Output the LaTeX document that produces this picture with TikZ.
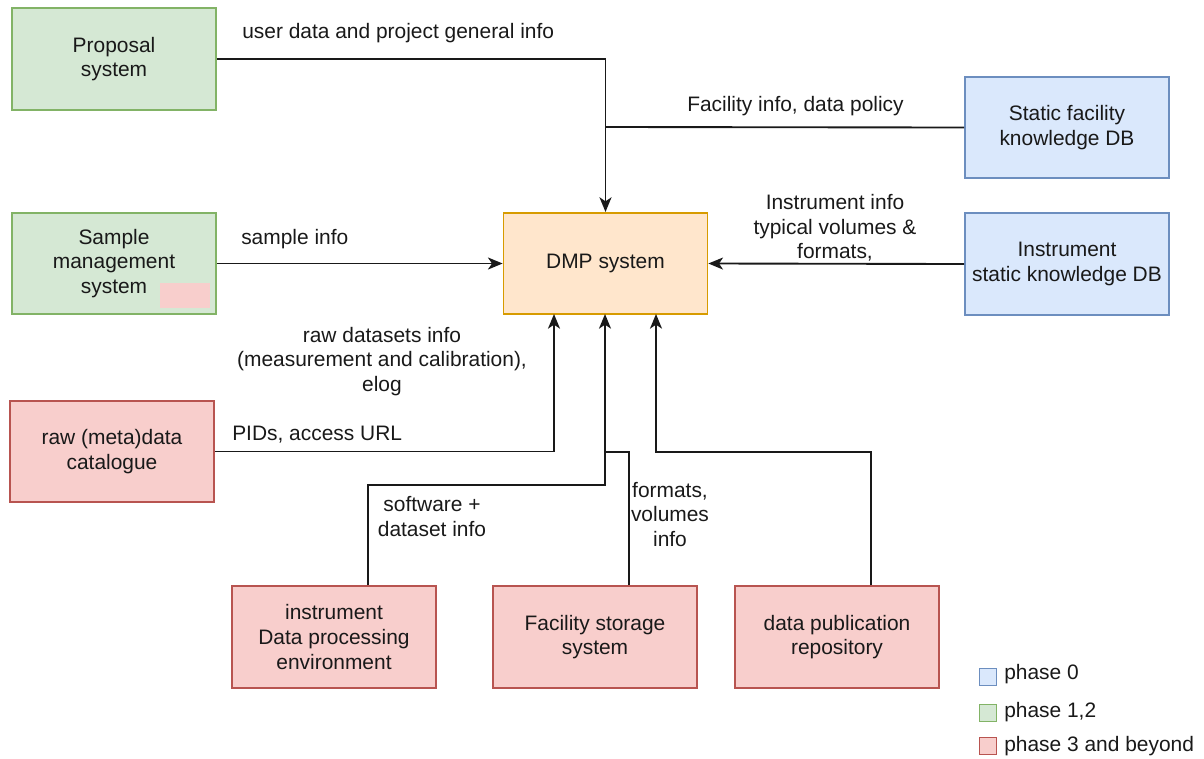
\documentclass[tikz,border=0pt]{standalone}
\usepackage{fontspec}
\setmainfont{Liberation Sans}
\usetikzlibrary{arrows.meta}
\definecolor{greenF}{HTML}{D5E8D4}\definecolor{greenD}{HTML}{82B366}
\definecolor{blueF}{HTML}{DAE8FC}\definecolor{blueD}{HTML}{6C8EBF}
\definecolor{redF}{HTML}{F8CECC}\definecolor{redD}{HTML}{B85450}
\definecolor{orangeF}{HTML}{FFE6CC}\definecolor{orangeD}{HTML}{D79B00}
\tikzset{
  every node/.style={font=\fontsize{15.7pt}{18.4pt}\selectfont, text=black!90},
  sysbox/.style={draw, line width=1.3pt, minimum width=153pt, minimum height=76pt, align=center, inner sep=2pt},
  greenbox/.style={sysbox, fill=greenF, draw=greenD},
  bluebox/.style={sysbox, fill=blueF, draw=blueD},
  redbox/.style={sysbox, fill=redF, draw=redD},
  dmpbox/.style={sysbox, fill=orangeF, draw=orangeD},
  link/.style={line width=1.4pt, draw=black!90},
  flow/.style={link, -{Stealth[length=11pt, width=9pt, inset=3pt]}},
  lbl/.style={align=center, inner sep=0pt},
  legsq/.style={draw, line width=1pt, minimum size=12.5pt, inner sep=0pt}
}
\begin{document}
\begin{tikzpicture}[x=0.75pt, y=-0.75pt]
\useasboundingbox (0,0) rectangle (1204,758);

% systems
\node[greenbox] (prop) at (114,59) {Proposal\\system};
\node[greenbox] (samp) at (114,263.5) {Sample\\management\\system};
\node[fill=redF, minimum width=37.5pt, minimum height=19pt, inner sep=0pt] (tag) at (185,295.5) {};
\node[dmpbox] (dmp) at (605.5,263.5) {DMP system};
\node[bluebox] (sfk) at (1067,127.5) {Static facility\\knowledge DB};
\node[bluebox] (isk) at (1067,264) {Instrument\\static knowledge DB};
\node[redbox] (raw) at (112,451.5) {raw (meta)data\\catalogue};
\node[redbox] (idp) at (334,637) {instrument\\Data processing\\environment};
\node[redbox] (fss) at (595,637) {Facility storage\\system};
\node[redbox] (dpr) at (837,637) {data publication\\repository};

% junction points
\coordinate (topjoin) at (605,127);
\coordinate (dmpL) at (554,314);
\coordinate (dmpM) at (605,314);
\coordinate (dmpR) at (656,314);
\coordinate (midjoin) at (605,452);

% connectors
\draw[flow] (prop.east |- 0,59) -| (dmp.north);
\draw[link] (sfk.west) -- (topjoin);
\draw[flow] (samp.east) -- (dmp.west);
\draw[flow] (isk.west) -- (dmp.east);
\draw[flow] (raw.east) -| (dmpL);
\draw[flow] (idp.north -| 368,0) |- (605,485) -- (dmpM);
\draw[link] (fss.north -| 629,0) |- (midjoin);
\draw[flow] (dpr.north -| 871,0) |- (656,452) -- (dmpR);

% connector labels
\node[lbl, anchor=west] (l1) at (242,33) {user data and project general info};
\node[lbl] (l2) at (795.5,106) {Facility info, data policy};
\node[lbl] (l3) at (835,228) {Instrument info\\typical volumes \&\\formats,};
\node[lbl, anchor=west] (l4) at (241,239) {sample info};
\node[lbl] (l5) at (382,361.5) {raw datasets info\\(measurement and calibration),\\elog};
\node[lbl, anchor=west] (l6) at (232,435) {PIDs, access URL};
\node[lbl] (l7) at (432,516.5) {software +\\dataset info};
\node[lbl] (l8) at (670,514.5) {formats,\\volumes\\info};

% legend
\node[legsq, fill=blueF, draw=blueD] (k0) at (988,677) {};
\node[legsq, fill=greenF, draw=greenD] (k1) at (988,713) {};
\node[legsq, fill=redF, draw=redD] (k2) at (988,746) {};
\node[lbl, anchor=west] (t0) at (1004,674) {phase 0};
\node[lbl, anchor=west] (t1) at (1004,712) {phase 1,2};
\node[lbl, anchor=west] (t2) at (1004,746) {phase 3 and beyond};
\end{tikzpicture}
\end{document}
